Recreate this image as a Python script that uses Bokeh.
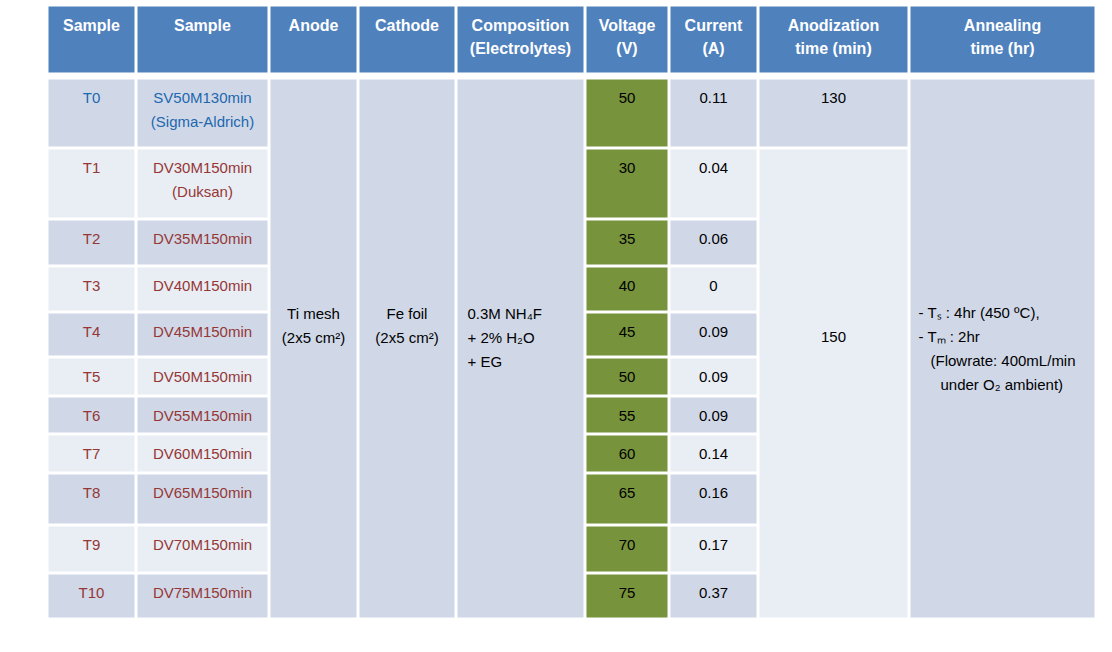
from bokeh.plotting import figure
from bokeh.models import Range1d, ColumnDataSource
from bokeh.core.properties import value
from bokeh.embed import file_html
from bokeh.resources import INLINE

# ---------------- data ----------------
headers = [["Sample"], ["Sample"], ["Anode"], ["Cathode"],
           ["Composition", "(Electrolytes)"], ["Voltage", "(V)"],
           ["Current", "(A)"], ["Anodization", "time (min)"],
           ["Annealing", "time (hr)"]]
samples = ["T0", "T1", "T2", "T3", "T4", "T5", "T6", "T7", "T8", "T9", "T10"]
sample_names = [["SV50M130min", "(Sigma-Aldrich)"], ["DV30M150min", "(Duksan)"],
                ["DV35M150min"], ["DV40M150min"], ["DV45M150min"], ["DV50M150min"],
                ["DV55M150min"], ["DV60M150min"], ["DV65M150min"], ["DV70M150min"],
                ["DV75M150min"]]
voltages = [50, 30, 35, 40, 45, 50, 55, 60, 65, 70, 75]
currents = ["0.11", "0.04", "0.06", "0", "0.09", "0.09", "0.09", "0.14", "0.16", "0.17", "0.37"]
anodization_times = ["130", "150"]
anode = ["Ti mesh", "(2x5 cm\u00b2)"]
cathode = ["Fe foil", "(2x5 cm\u00b2)"]
electrolyte = ["0.3M NH\u2084F", "+ 2% H\u2082O", "+ EG"]
annealing = ["- T\u209b : 4hr (450 \u00baC),", "- T\u2098 : 2hr", "(Flowrate: 400mL/min", "under O\u2082 ambient)"]

# ---------------- layout (pixel geometry) ----------------
col_edges = [(48, 134), (137, 267), (270, 356), (359, 454), (457, 583),
             (586, 667), (670, 756), (759, 907), (910, 1094)]
header_edge = (6, 72)
row_edges = [(79, 146), (149, 217), (220, 264), (267, 310), (313, 355), (358, 394),
             (397, 432), (435, 471), (474, 523), (526, 571), (574, 617)]

HEAD = "#4F81BD"
DARK = "#D0D8E8"
LIGHT = "#E9EDF4"
GREEN = "#77933C"
RED = "#953735"
BLUE = "#2167AE"
FONT = "Liberation Sans"

p = figure(width=1096, height=636, x_range=Range1d(0, 1096), y_range=Range1d(636, 0),
           output_backend="svg", toolbar_location=None, min_border=0,
           x_axis_type=None, y_axis_type=None)
p.grid.visible = False
p.outline_line_color = None
p.background_fill_color = "white"
p.border_fill_color = "white"

L, R, T, B, C = [], [], [], [], []


def cell(ci, r0, r1, color):
    L.append(col_edges[ci][0]); R.append(col_edges[ci][1])
    T.append(row_edges[r0][0]); B.append(row_edges[r1][1]); C.append(color)


# header cells
for ci in range(len(headers)):
    L.append(col_edges[ci][0]); R.append(col_edges[ci][1])
    T.append(header_edge[0]); B.append(header_edge[1]); C.append(HEAD)

n = len(samples)
for i in range(n):
    band = DARK if i % 2 == 0 else LIGHT
    cell(0, i, i, band)
    cell(1, i, i, band)
    cell(5, i, i, GREEN)
    cell(6, i, i, band)
cell(2, 0, n - 1, DARK)
cell(3, 0, n - 1, DARK)
cell(4, 0, n - 1, DARK)
cell(7, 0, 0, DARK)
cell(7, 1, n - 1, LIGHT)
cell(8, 0, n - 1, DARK)

p.quad(left=L, right=R, top=T, bottom=B, fill_color=C, line_color=None)

# texts
tx, ty, tt, tc, ta = [], [], [], [], []


def put(x, y, s, color, align="center"):
    tx.append(x); ty.append(y); tt.append(s); tc.append(color); ta.append(align)


def mid(ci):
    return (col_edges[ci][0] + col_edges[ci][1]) / 2


LH = 24
for i in range(n):
    top = row_edges[i][0] + 18
    col = BLUE if i == 0 else RED
    put(mid(0), top, samples[i], col)
    for k, s in enumerate(sample_names[i]):
        put(mid(1), top + LH * k, s, col)
    put(mid(5), top, str(voltages[i]), "black")
    put(mid(6), top, currents[i], "black")

put(mid(7), row_edges[0][0] + 18, anodization_times[0], "black")
put(mid(7), 336, anodization_times[1], "black")
for k, s in enumerate(anode):
    put(mid(2), 313 + LH * k, s, "black")
for k, s in enumerate(cathode):
    put(mid(3), 313 + LH * k, s, "black")
for k, s in enumerate(electrolyte):
    put(467, 313 + 24 * k, s, "black", "left")
ann_x = [918, 918, 930, 940]
for k, s in enumerate(annealing):
    put(ann_x[k], 312 + 24 * k, s, "black", "left")

src = ColumnDataSource(dict(x=tx, y=ty, text=tt, color=tc, align=ta))
p.text(x="x", y="y", text="text", text_color="color", text_align="align",
       text_baseline="middle", text_font=value(FONT), text_font_size="15px", source=src)

hx, hy, ht = [], [], []
for ci, lines in enumerate(headers):
    for k, s in enumerate(lines):
        hx.append(mid(ci)); hy.append(25 + 23 * k); ht.append(s)
p.text(x=hx, y=hy, text=ht, text_color="white", text_align="center",
       text_baseline="middle", text_font=value(FONT), text_font_size="16px",
       text_font_style="bold")

open("out.html", "w").write(file_html(p, INLINE))
